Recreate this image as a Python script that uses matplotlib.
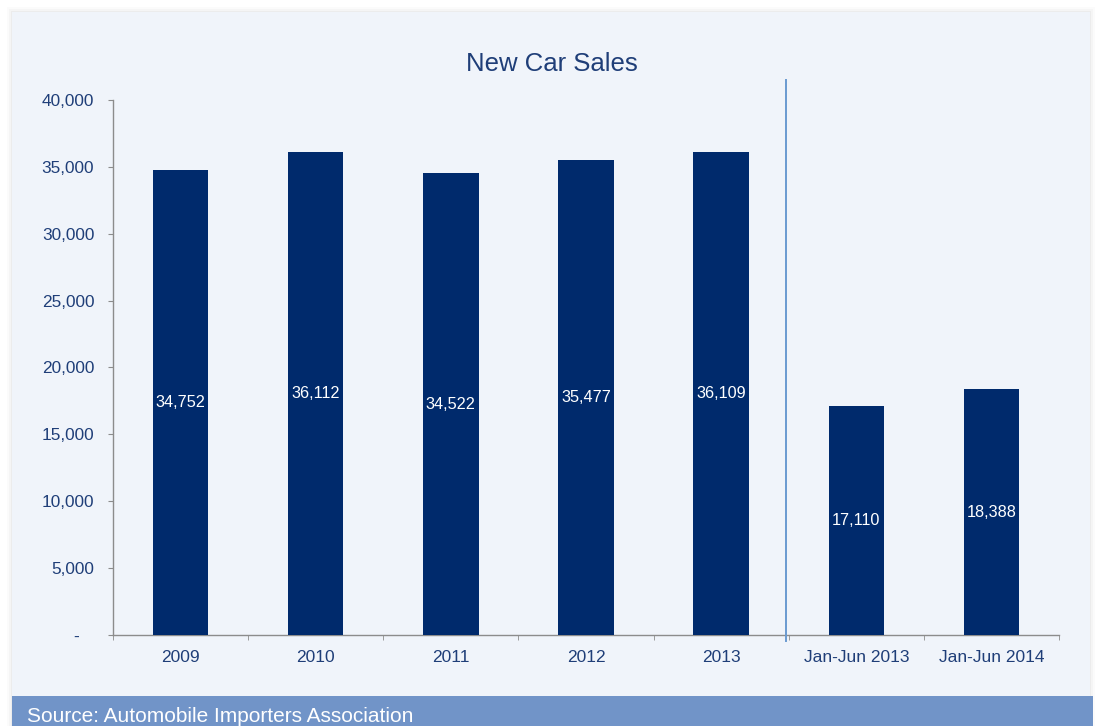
import matplotlib
matplotlib.use("Agg")
import matplotlib.pyplot as plt
from matplotlib.patches import Rectangle
from matplotlib.ticker import FixedLocator, FuncFormatter

# data
categories = ["2009", "2010", "2011", "2012", "2013", "Jan-Jun 2013", "Jan-Jun 2014"]
sales = [34752, 36112, 34522, 35477, 36109, 17110, 18388]
y_ticks = [0, 5000, 10000, 15000, 20000, 25000, 30000, 35000, 40000]
divider_at = 4.48  # between full years and half-year figures

plt.rcParams["font.family"] = ["Liberation Sans", "DejaVu Sans"]

bar_color = "#002A6C"
text_color = "#1F3E78"
panel_color = "#F0F4FA"
band_color = "#7194C8"

fig = plt.figure(figsize=(10.96, 7.26), dpi=100)
fig.patch.set_facecolor("white")

W, H = 1096, 726


def px(x0, y0, x1, y1):
    # pixel box -> figure fraction rectangle (x, y, w, h)
    return x0 / W, 1 - y1 / H, (x1 - x0) / W, (y1 - y0) / H


# soft shadow and panel
for off, alpha in [(5, 0.015), (3, 0.025), (1, 0.035)]:
    x, y, w, h = px(12 - off, 12 - off, 1090 + off, 726)
    fig.patches.append(Rectangle((x, y), w, h, transform=fig.transFigure,
                                 facecolor="#000000", alpha=alpha, lw=0, zorder=0))
x, y, w, h = px(12, 12, 1090, 726)
fig.patches.append(Rectangle((x, y), w, h, transform=fig.transFigure,
                             facecolor=panel_color, lw=0, zorder=1))
x, y, w, h = px(12, 696, 1093, 726)
fig.patches.append(Rectangle((x, y), w, h, transform=fig.transFigure,
                             facecolor=band_color, lw=0, zorder=2))
fig.text(27 / W, 1 - 717 / H, "Source: Automobile Importers Association",
         color="white", fontsize=15, va="center", ha="left", zorder=3)

ax = fig.add_axes([113 / W, 1 - 635 / H, 946 / W, 535 / H])
ax.set_facecolor("none")
ax.set_zorder(5)

xpos = list(range(len(categories)))
bars = ax.bar(xpos, sales, width=0.41, color=bar_color, zorder=3)
ax.bar_label(bars, labels=[f"{v:,}" for v in sales], label_type="center",
             color="white", fontsize=11.7)

ax.set_xlim(-0.5, len(categories) - 0.5)
ax.set_ylim(0, 40000)

# accounting style: zero shown as a dash, set in from the right
ax.yaxis.set_major_locator(FixedLocator(y_ticks))
ax.yaxis.set_major_formatter(FuncFormatter(lambda v, p: "-   " if v == 0 else f"{int(v):,}"))
ax.tick_params(axis="y", direction="out", length=3.5, color="#8C8C8C",
               labelcolor=text_color, labelsize=12.4, pad=10)

ax.set_xticks(xpos)
ax.set_xticklabels(categories)
ax.set_xticks([i - 0.5 for i in range(len(categories) + 1)], minor=True)
ax.tick_params(axis="x", which="major", length=0, labelcolor=text_color,
               labelsize=12.5, pad=10.5)
ax.tick_params(axis="x", which="minor", direction="out", length=3.5, color="#8C8C8C")

for side in ["top", "right"]:
    ax.spines[side].set_visible(False)
for side in ["left", "bottom"]:
    ax.spines[side].set_color("#8C8C8C")
    ax.spines[side].set_linewidth(1.0)

ax.plot([divider_at, divider_at], [-0.011, 1.037], color="#6A9AD0", lw=1.4,
        transform=ax.get_xaxis_transform(), clip_on=False, zorder=4)

fig.text(552 / W, 1 - 64 / H, "New Car Sales", color=text_color, fontsize=18.5,
         ha="center", va="center", zorder=6)

fig.savefig("out.png", dpi=100)
